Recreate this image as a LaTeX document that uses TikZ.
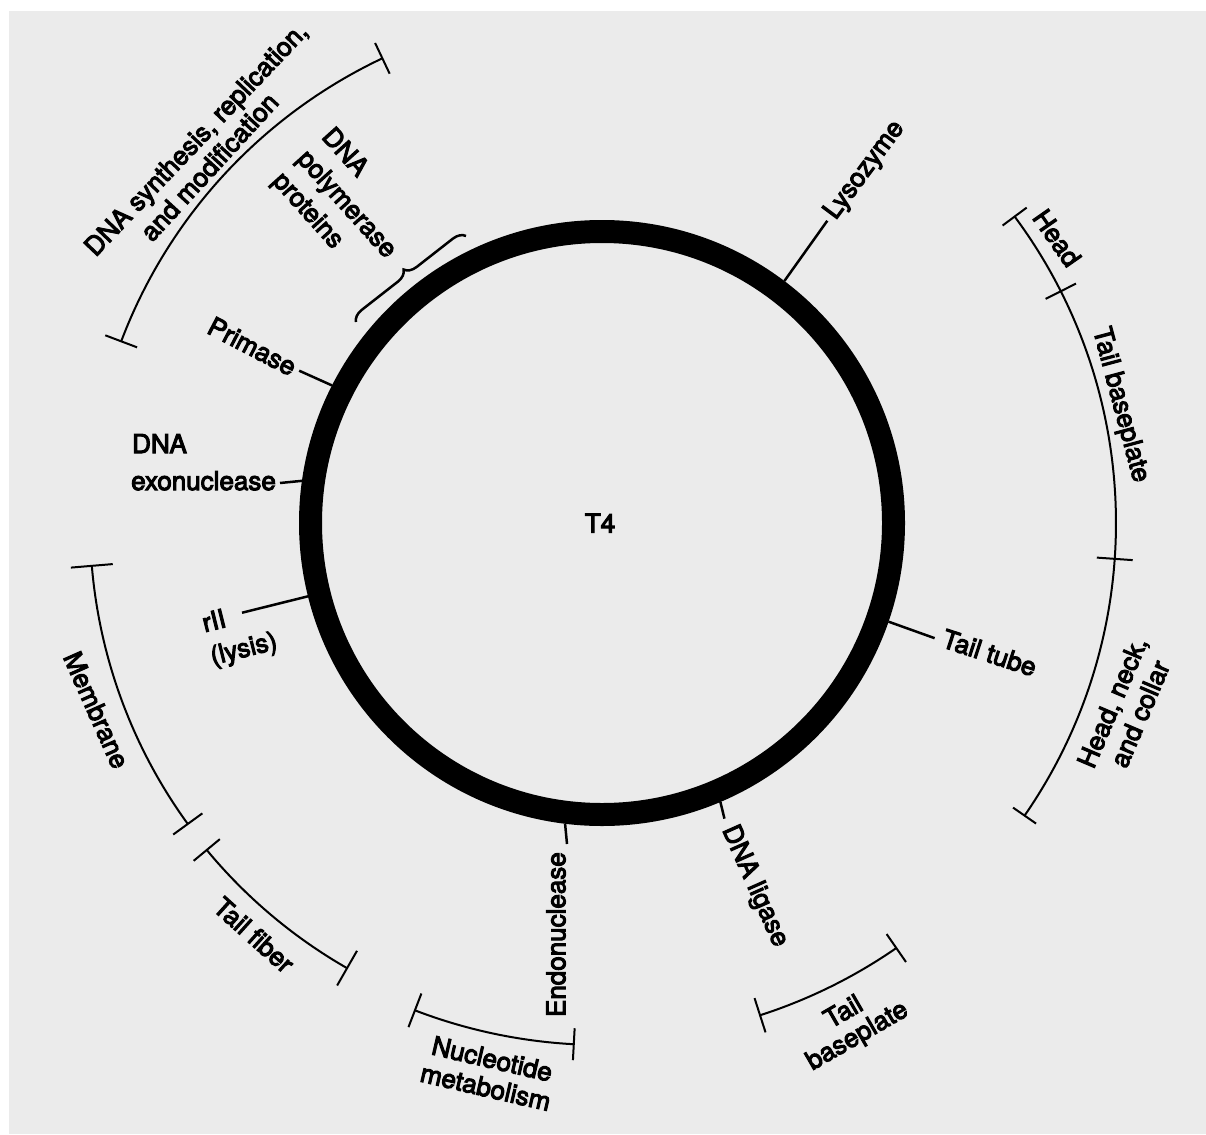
\documentclass[tikz,border=0pt]{standalone}
\usepackage{fontspec}
\newfontfamily\lblfont{TeX Gyre Heros}[FakeBold=4]
\usetikzlibrary{calc,decorations.pathreplacing}
\definecolor{bggray}{RGB}{235,235,235}
\tikzset{
  lbl/.style={font=\lblfont\fontsize{26}{30}\selectfont, inner sep=2pt},
  lblsp/.style={font=\lblfont\fontsize{26}{#1}\selectfont},
  tickln/.style={line width=2.5pt},
  brk/.style={line width=2pt},
}
\begin{document}
\begin{tikzpicture}[x=1pt,y=1pt]
\useasboundingbox (0,0) rectangle (1206,-1134);
\fill[white] (0,0) rectangle (1206,-1134);
\fill[bggray] (9,-11) rectangle (1206,-1134);
\coordinate (c) at (602,-523);
\node[circle, draw, line width=23pt, minimum size=583pt, inner sep=0pt, outer sep=11.5pt] (ring) at (c) {};
\node[lbl] (t4) at (600,-523) {T4};

% Lysozyme
\coordinate (lysE) at ($(c)+(53.3:377)$);
\draw[tickln] (ring.53.3) -- (lysE);
\node[lbl, rotate=53.3, anchor=west] (lys) at ($(c)+(53.3:380)$) {Lysozyme};
% Tail tube
\coordinate (ttE) at ($(c)+(-19.1:352)$);
\draw[tickln] (ring.-19.1) -- (ttE);
\node[lbl, rotate=-18, anchor=west] (tt) at ($(c)+(-18.6:358)$) {Tail tube};
% DNA ligase
\coordinate (ligE) at ($(c)+(-67.5:320)$);
\draw[tickln] (ring.-67.5) -- (ligE);
\node[lbl, rotate=-66, anchor=west] (lig) at ($(c)+(-67.5:327)$) {DNA ligase};
% Endonuclease
\coordinate (endE) at (567,-844);
\draw[tickln] (ring.263.4) -- (endE);
\node[lbl, rotate=90, anchor=east] (endo) at (556,-850) {Endonuclease};
% Primase
\coordinate (priE) at ($(c)+(153.3:339)$);
\draw[tickln] (ring.153.3) -- (priE);
\node[lbl, rotate=-27.5, anchor=east] (pri) at ($(c)+(153.3:342)$) {Primase};
% DNA exonuclease
\coordinate (exoE) at (280,-483);
\draw[tickln] (ring.172.8) -- (exoE);
\node[lbl, anchor=base west] (exo1) at (130,-453) {DNA};
\node[lbl, anchor=base west] (exo2) at (129,-490) {exonuclease};
% rII
\coordinate (riiE) at ($(c)+(194:371)$);
\draw[tickln] (ring.194) -- (riiE);
\node[lbl, lblsp=33.6, rotate=14, align=left] (rii) at (240,-634) {rII\\(lysis)};
% DNA polymerase proteins
\node[lbl, lblsp=33, rotate=-48, align=left] (pol) at (346,-205) {DNA\\polymerase\\proteins};
\coordinate (brA) at (356,-322);
\coordinate (brB) at (466,-236);
\draw[line width=2.5pt, decorate, decoration={brace, amplitude=12pt}] (brA) -- (brB);

% concentric brackets
\begin{scope}[shift={(c)}]
  % DNA synthesis
  \draw[brk] (159.3:514) arc[start angle=159.3, end angle=115.3, radius=514];
  \draw[brk] (159.3:497) -- (159.3:531);
  \draw[brk] (115.3:497) -- (115.3:531);
  % Membrane
  \draw[brk] (184.8:512) arc[start angle=184.8, end angle=216, radius=512];
  \draw[brk] (184.8:491) -- (184.8:533);
  \draw[brk] (216:494) -- (216:530);
  % Tail fiber
  \draw[brk] (219.6:513) arc[start angle=219.6, end angle=240.2, radius=513];
  \draw[brk] (219.6:496) -- (219.6:530);
  \draw[brk] (240.2:493) -- (240.2:533);
  % Nucleotide metabolism
  \draw[brk] (249:522) arc[start angle=249, end angle=266.9, radius=522];
  \draw[brk] (249:504) -- (249:540);
  \draw[brk] (266.9:506) -- (266.9:538);
  % Tail baseplate (bottom)
  \draw[brk] (-72.2:517) arc[start angle=-72.2, end angle=-55.3, radius=517];
  \draw[brk] (-72.2:499) -- (-72.2:535);
  \draw[brk] (-55.3:500) -- (-55.3:534);
  % Head / Tail baseplate / Head, neck, and collar
  \draw[brk] (36.6:514) arc[start angle=36.6, end angle=-34.7, radius=514];
  \draw[brk] (36.6:499) -- (36.6:529);
  \draw[brk] (26.8:497) -- (26.8:531);
  \draw[brk] (-4.0:496) -- (-4.0:532);
  \draw[brk] (-34.7:500) -- (-34.7:528);
\end{scope}

\node[lbl, rotate=46.5, anchor=base] (syn1) at ($(c)+(136.6:550)$) {DNA synthesis, replication,};
\node[lbl, rotate=47.5, anchor=base] (syn2) at ($(c)+(137.8:521)$) {and modification};
\node[lbl, rotate=-55] (head) at (1057,-238) {Head};
\node[lbl, rotate=-75] (tbp) at (1120,-405) {Tail baseplate};
\node[lbl, lblsp=30, rotate=67, align=center] (hnc) at (1126,-708) {Head, neck,\\and collar};
\node[lbl, rotate=-66] (mem) at (96.5,-710) {Membrane};
\node[lbl, rotate=-42] (tf) at (254,-935) {Tail fiber};
\node[lbl, lblsp=29, rotate=-13, align=center] (nuc) at (489,-1073) {Nucleotide\\metabolism};
\node[lbl, lblsp=27, rotate=30, align=center] (tbp2) at (851,-1025) {Tail\\baseplate};
\end{tikzpicture}
\end{document}
